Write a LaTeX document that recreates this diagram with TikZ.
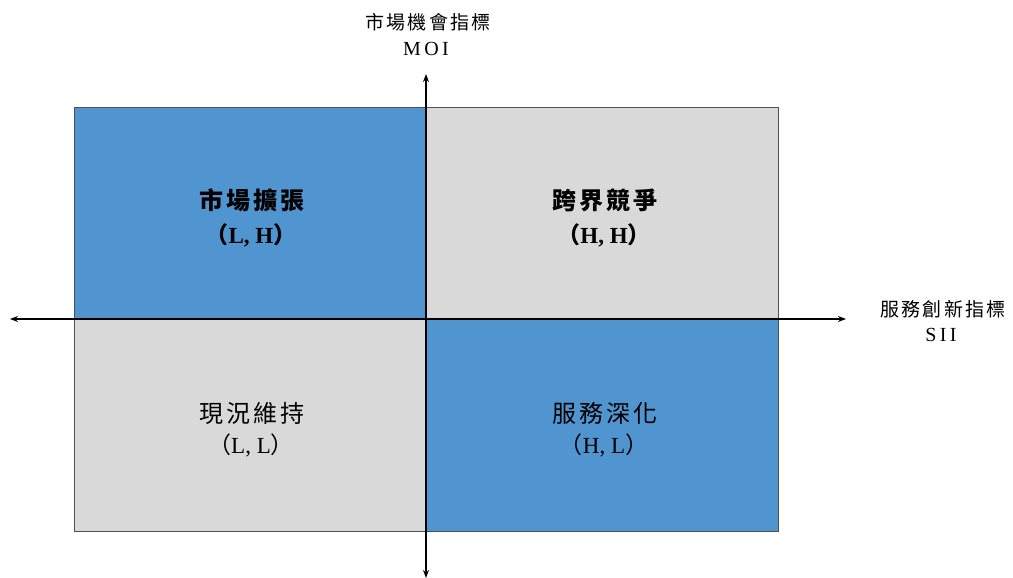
\documentclass[tikz,border=0pt]{standalone}
\usepackage{fontspec}
\setmainfont{Liberation Serif}
\newfontfamily\cjk[LetterSpace=12]{Noto Sans CJK TC}
\newfontfamily\cjkp{Noto Sans CJK TC}
\usetikzlibrary{arrows.meta}
\definecolor{qblue}{HTML}{5094D0}
\definecolor{qgray}{HTML}{D9D9D9}
\definecolor{qedge}{HTML}{505050}
\begin{document}
\begin{tikzpicture}[x=1pt,y=-1pt,
  quad/.style={draw=qedge,line width=1pt},
  axis/.style={line width=1.6pt,-{Stealth[length=8pt,width=6pt]}},
  qtitle/.style={font=\fontsize{24}{28}\selectfont\cjk},
  qsub/.style={font=\fontsize{23}{27}\selectfont},
  alab/.style={font=\fontsize{19}{22}\selectfont\cjk},
  asub/.style={font=\fontsize{20}{23}\selectfont}]
\useasboundingbox (0,0) rectangle (1013,578);
\fill[qblue] (74,108) rectangle (426,319);
\fill[qgray] (426,108) rectangle (778,319);
\fill[qgray] (74,319) rectangle (426,531);
\fill[qblue] (426,319) rectangle (778,531);
\draw[quad] (74,108) rectangle (778,531);
\draw[quad] (74,319) -- (778,319);
\draw[quad] (426,108) -- (426,531);
\coordinate (c) at (426,319);
\coordinate (L) at (10,319);
\coordinate (R) at (846,319);
\coordinate (T) at (426,74);
\coordinate (B) at (426,578);
\draw[axis] (c) -- (L);
\draw[axis] (c) -- (R);
\draw[axis] (c) -- (T);
\draw[axis] (c) -- (B);
\node[alab] (moi1) at (428,22) {市場機會指標};
\node[asub] (moi2) at (426,49) {M\,O\,I};
\node[alab] (sii1) at (943,309) {服務創新指標};
\node[asub] (sii2) at (941,335) {S\,I\,I};
\node[qtitle,font=\fontsize{24}{28}\selectfont\cjk\bfseries] (q1) at (252,200) {市場擴張};
\node[qsub,font=\fontsize{23}{27}\selectfont\bfseries] (q1s) at (251,235) {{\cjkp （}L, H{\cjkp ）}};
\node[qtitle,font=\fontsize{24}{28}\selectfont\cjk\bfseries] (q2) at (605,200) {跨界競爭};
\node[qsub,font=\fontsize{23}{27}\selectfont\bfseries] (q2s) at (604,235) {{\cjkp （}H, H{\cjkp ）}};
\node[qtitle] (q3) at (252,413) {現況維持};
\node[qsub] (q3s) at (251,445) {{\cjkp （}L, L{\cjkp ）}};
\node[qtitle] (q4) at (605,413) {服務深化};
\node[qsub] (q4s) at (604,445) {{\cjkp （}H, L{\cjkp ）}};
\end{tikzpicture}
\end{document}
